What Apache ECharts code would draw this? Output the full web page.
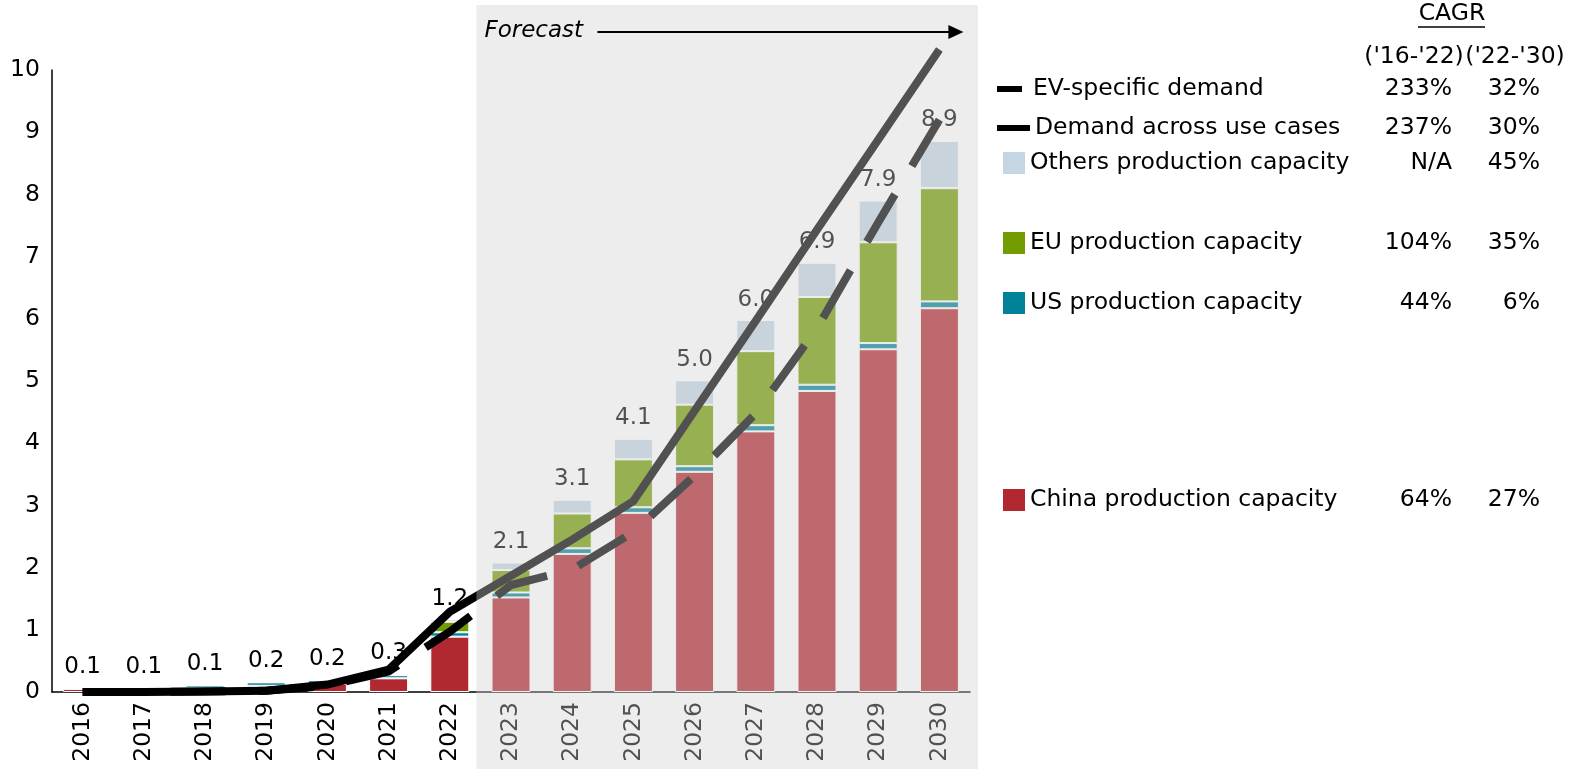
<!DOCTYPE html>
<html>
<head>
<meta charset="utf-8">
<script src="https://cdn.jsdelivr.net/npm/echarts@6/dist/echarts.min.js"></script>
<style>
  html, body { margin: 0; padding: 0; background: #ffffff; }
  #chart { width: 1570px; height: 769px; }
</style>
</head>
<body>
<div id="chart"></div>
<script>
// Battery production capacity by region and demand outlook (TWh)
const years = ['2016', '2017', '2018', '2019', '2020', '2021', '2022',
               '2023', '2024', '2025', '2026', '2027', '2028', '2029', '2030'];
const forecastStart = '2023';

const chinaCapacity  = [0.05, 0.05, 0.07, 0.10, 0.13, 0.22, 0.89, 1.52, 2.22, 2.88, 3.54, 4.19, 4.84, 5.51, 6.17];
const usCapacity     = [0.01, 0.015, 0.04, 0.055, 0.06, 0.05, 0.07, 0.08, 0.09, 0.09, 0.09, 0.10, 0.10, 0.10, 0.11];
const euCapacity     = [0.003, 0.005, 0.003, 0.005, 0.01, 0.02, 0.17, 0.36, 0.56, 0.77, 0.99, 1.19, 1.41, 1.62, 1.82];
const othersCapacity = [0, 0, 0, 0, 0, 0.01, 0.04, 0.12, 0.22, 0.33, 0.39, 0.50, 0.55, 0.67, 0.76];

const demandAllUses  = [0, 0, 0.01, 0.02, 0.12, 0.36, 1.29, 1.87, 2.45, 3.07, 4.52, 5.97, 7.43, 8.88, 10.33];
const demandEV       = [0, 0, 0.01, 0.02, 0.10, 0.33, 0.97, 1.72, 1.97, 2.57, 3.48, 4.48, 5.85, 7.55, 9.20];

// Legend rows and their compound annual growth rates
const legendNames = ['EV-specific demand', 'Demand across use cases', 'Others production capacity',
                     'EU production capacity', 'US production capacity', 'China production capacity'];
const cagrEarly = ['233%', '237%', 'N/A', '104%', '44%', '64%'];
const cagrLate  = ['32%', '30%', '45%', '35%', '6%', '27%'];
const cagrTitle = 'CAGR';
const cagrPeriods = ["('16-'22)", "('22-'30)"];

const FONT = 'DejaVu Sans';
const FS = 23.5;

const totals = years.map((_, i) =>
  Math.round((chinaCapacity[i] + usCapacity[i] + euCapacity[i] + othersCapacity[i]) * 100) / 100);

const chart = echarts.init(document.getElementById('chart'), null, { renderer: 'canvas' });

function barSeries(name, data, color, withTotal) {
  const s = {
    name: name,
    type: 'bar',
    stack: 'capacity',
    data: data,
    barWidth: 39,
    itemStyle: { color: color, borderColor: '#ffffff', borderWidth: 1 },
    emphasis: { disabled: true },
    z: 2
  };
  if (withTotal) {
    s.label = {
      show: true,
      position: 'top',
      distance: 9,
      color: '#000',
      fontFamily: FONT,
      fontSize: 23,
      formatter: p => (Math.round(totals[p.dataIndex] * 10) / 10).toFixed(1)
    };
  }
  return s;
}

function lineSeries(name, data, dashed) {
  return {
    name: name,
    type: 'line',
    data: data,
    symbol: 'none',
    clip: false,
    z: 3,
    lineStyle: {
      color: '#000',
      width: 8,
      type: dashed ? [55, 33] : 'solid',
      cap: 'butt',
      join: 'miter'
    },
    itemStyle: { color: '#000' },
    emphasis: { disabled: true }
  };
}

// One legend block per row so each row sits at its own height, with CAGR columns as rich text
const rowCenters = [89, 128, 163, 243, 303, 500];
const COL_A_RIGHT = 1452, COL_A_W = 60, COL_B_W = 88;
const legendColors = ['#000', '#000', '#c4d5e3', '#739c00', '#008299', '#b22830'];

function legendRow(i) {
  const isLine = i < 2;
  const iconW = isLine ? (i === 0 ? 25 : 33) : 22;
  const iconH = isLine ? 6 : 22;
  const left = isLine ? 997 : 1003;
  const lead = i === 0 ? 6 : 0;
  const textStart = left + iconW + 5 + lead;
  const nameW = COL_A_RIGHT - COL_A_W - textStart;
  const base = { fontFamily: FONT, fontSize: FS, color: '#000', lineHeight: 28 };
  return {
    show: true,
    orient: 'horizontal',
    left: left,
    top: rowCenters[i] - 14,
    padding: 0,
    selectedMode: false,
    itemWidth: iconW,
    itemHeight: iconH,
    data: [{ name: legendNames[i], icon: 'rect', itemStyle: { color: legendColors[i], borderWidth: 0 } }],
    formatter: name => {
      const k = legendNames.indexOf(name);
      return (lead ? '{p| }' : '') + '{n|' + name + '}{a|' + cagrEarly[k] + '}{b|' + cagrLate[k] + '}';
    },
    textStyle: Object.assign({}, base, {
      rich: {
        p: Object.assign({}, base, { width: lead }),
        n: Object.assign({}, base, { width: nameW, align: 'left' }),
        a: Object.assign({}, base, { width: COL_A_W, align: 'right' }),
        b: Object.assign({}, base, { width: COL_B_W, align: 'right' })
      }
    })
  };
}

const option = {
  backgroundColor: '#ffffff',
  animation: false,
  grid: { left: 52, right: 600, top: 70, bottom: 77, containLabel: false, outerBoundsMode: 'none' },
  xAxis: {
    type: 'category',
    data: years,
    axisLine: { show: true, lineStyle: { color: '#000', width: 1.5 } },
    axisTick: { show: false },
    axisLabel: { interval: 0, rotate: 90, margin: 10, color: '#000', fontFamily: FONT, fontSize: FS },
    splitLine: { show: false }
  },
  yAxis: {
    type: 'value',
    min: 0,
    max: 10,
    interval: 1,
    axisLine: { show: true, lineStyle: { color: '#000', width: 1.5 } },
    axisTick: { show: false },
    axisLabel: { margin: 12, color: '#000', fontFamily: FONT, fontSize: FS },
    splitLine: { show: false }
  },
  legend: legendNames.map((_, i) => legendRow(i)),
  series: [
    barSeries('China production capacity', chinaCapacity, '#b22830', false),
    barSeries('US production capacity', usCapacity, '#008299', false),
    barSeries('EU production capacity', euCapacity, '#739c00', false),
    barSeries('Others production capacity', othersCapacity, '#c4d5e3', true),
    lineSeries('Demand across use cases', demandAllUses, false),
    lineSeries('EV-specific demand', demandEV, true)
  ]
};

chart.setOption(option);

// Forecast shading and header annotations positioned from the category axis
const xFirst = chart.convertToPixel({ xAxisIndex: 0 }, forecastStart);
const xLast = chart.convertToPixel({ xAxisIndex: 0 }, years[years.length - 1]);
const band = chart.convertToPixel({ xAxisIndex: 0 }, years[years.indexOf(forecastStart) + 1]) - xFirst;
const shadeLeft = xFirst - band / 2 - 4;
const shadeRight = xLast + band / 2 + 8;
const arrowY = 32;
const arrowStart = shadeLeft + 121;
const arrowTip = xLast + 24;

const colA = COL_A_RIGHT - 38, colB = COL_A_RIGHT + 63;

chart.setOption({
  graphic: [
    {
      type: 'rect', silent: true, z: 100,
      shape: { x: shadeLeft, y: 5, width: shadeRight - shadeLeft, height: 769 - 5 },
      style: { fill: 'rgba(209,209,209,0.39)' }
    },
    {
      type: 'text', silent: true, z: 101,
      style: { text: 'Forecast', x: shadeLeft + 8, y: arrowY - 1, fill: '#000', fontFamily: FONT,
               fontSize: 23, fontStyle: 'italic', align: 'left', verticalAlign: 'middle' }
    },
    {
      type: 'line', silent: true, z: 101,
      shape: { x1: arrowStart, y1: arrowY, x2: arrowTip - 12, y2: arrowY },
      style: { stroke: '#000', lineWidth: 2 }
    },
    {
      type: 'polygon', silent: true, z: 101,
      shape: { points: [[arrowTip - 15, arrowY - 7], [arrowTip, arrowY], [arrowTip - 15, arrowY + 7]] },
      style: { fill: '#000' }
    },
    {
      type: 'text', silent: true, z: 101,
      style: { text: cagrTitle, x: COL_A_RIGHT, y: 14, fill: '#000', fontFamily: FONT, fontSize: FS,
               align: 'center', verticalAlign: 'middle' }
    },
    {
      type: 'line', silent: true, z: 101,
      shape: { x1: COL_A_RIGHT - 34, y1: 27, x2: COL_A_RIGHT + 33, y2: 27 },
      style: { stroke: '#000', lineWidth: 1.5 }
    },
    {
      type: 'text', silent: true, z: 101,
      style: { text: cagrPeriods[0], x: colA, y: 57, fill: '#000', fontFamily: FONT, fontSize: FS,
               align: 'center', verticalAlign: 'middle' }
    },
    {
      type: 'text', silent: true, z: 101,
      style: { text: cagrPeriods[1], x: colB, y: 57, fill: '#000', fontFamily: FONT, fontSize: FS,
               align: 'center', verticalAlign: 'middle' }
    }
  ]
});
</script>
</body>
</html>
